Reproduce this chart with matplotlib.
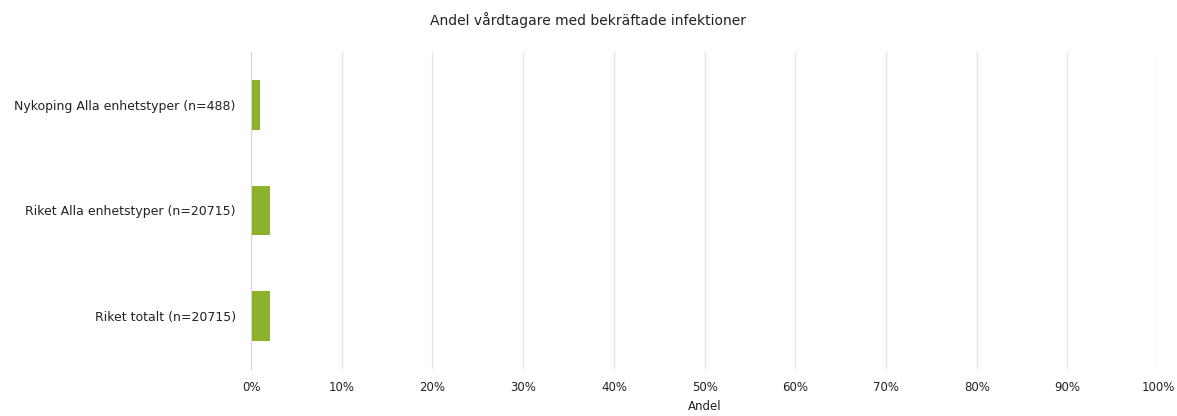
import matplotlib
matplotlib.use('Agg')
from matplotlib import pyplot as plt
from matplotlib.ticker import FuncFormatter

categories = ['Nykoping Alla enhetstyper (n=488)',
              'Riket Alla enhetstyper (n=20715)',
              'Riket totalt (n=20715)']
values = [1.0, 2.1, 2.1]
x_ticks = [0, 10, 20, 30, 40, 50, 60, 70, 80, 90, 100]

plt.rcParams['font.family'] = ['DejaVu Sans']

fig = plt.figure(figsize=(11.77, 4.16), dpi=100)
ax = fig.add_axes([0.2133, 0.113, 0.7707, 0.762])

ypos = list(range(len(categories)))
ax.barh(ypos, values, height=0.47, color='#8db12a', zorder=3)

ax.set_xlim(0, 100)
ax.set_ylim(len(categories) - 0.5, -0.5)
ax.set_xticks(x_ticks)
ax.xaxis.set_major_formatter(FuncFormatter(lambda v, p: '%d%%' % v))
ax.set_yticks(ypos)
ax.set_yticklabels(categories)
ax.tick_params(axis='both', length=0, labelsize=8.5, colors='#222222')
ax.tick_params(axis='x', pad=9)
ax.tick_params(axis='y', pad=11, labelsize=9)

ax.grid(axis='x', color='#e6e6e6', linewidth=1, zorder=0)
for s in ['top', 'right', 'bottom']:
    ax.spines[s].set_visible(False)
ax.spines['left'].set_color('#ccd6eb')
ax.spines['left'].set_zorder(4)

ax.set_xlabel('Andel', fontsize=8.5, color='#222222', labelpad=4)
fig.suptitle('Andel vårdtagare med bekräftade infektioner', fontsize=10,
             color='#222222', y=0.97)

fig.savefig('out.png', dpi=100)
